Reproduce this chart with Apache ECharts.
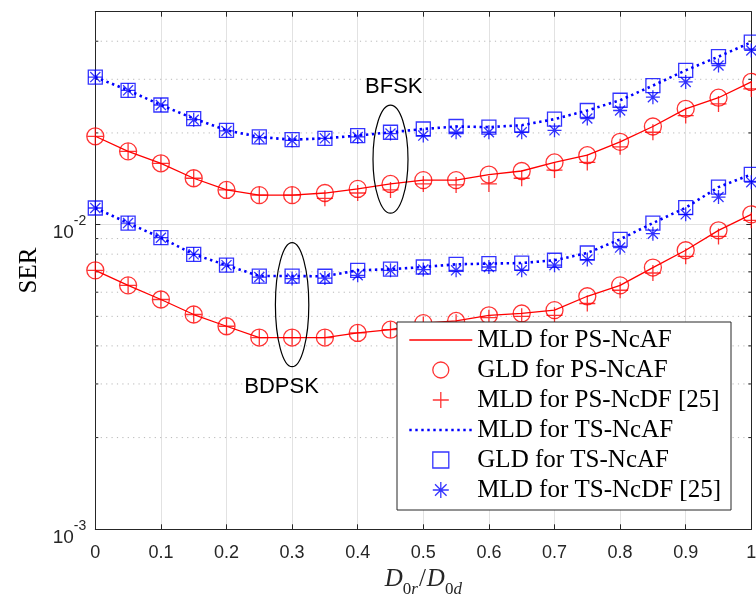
<!DOCTYPE html>
<html><head><meta charset="utf-8">
<script src="https://cdn.jsdelivr.net/npm/echarts@6/dist/echarts.min.js"></script>
<style>html,body{margin:0;padding:0;background:#fff}#c{width:756px;height:595px}</style>
</head><body><div id="c"></div>
<script>
// ---- data ----
const xs = [0, 0.05, 0.1, 0.15, 0.2, 0.25, 0.3, 0.35, 0.4, 0.45, 0.5, 0.55, 0.6, 0.65, 0.7, 0.75, 0.8, 0.85, 0.9, 0.95, 1];

// BFSK
const bfskPsNcAF = [0.0195, 0.0174, 0.0159, 0.0142, 0.0130, 0.0125, 0.0125, 0.0127, 0.0131, 0.0136, 0.0140, 0.0140, 0.0146, 0.0150, 0.0160, 0.0169, 0.0187, 0.0210, 0.0240, 0.0261, 0.0294];
const bfskPsNcDF = [0.0195, 0.0174, 0.0159, 0.0142, 0.0130, 0.0125, 0.0125, 0.0122, 0.0127, 0.0130, 0.0136, 0.0135, 0.0136, 0.0142, 0.0151, 0.0160, 0.0180, 0.0201, 0.0228, 0.0249, 0.0279];
const bfskTsNcAF = [0.0305, 0.0276, 0.0247, 0.0223, 0.0204, 0.0194, 0.0190, 0.0192, 0.0196, 0.0201, 0.0206, 0.0210, 0.0209, 0.0212, 0.0222, 0.0237, 0.0256, 0.0286, 0.0321, 0.0356, 0.0397];
const bfskTsNcDF = [0.0305, 0.0276, 0.0247, 0.0221, 0.0203, 0.0193, 0.0189, 0.0192, 0.0194, 0.0199, 0.0196, 0.0201, 0.0201, 0.0201, 0.0204, 0.0223, 0.0237, 0.0262, 0.0294, 0.0333, 0.0373];

// BDPSK
const bdpskPsNcAF = [0.00708, 0.00632, 0.00568, 0.00507, 0.00464, 0.00426, 0.00426, 0.00426, 0.00441, 0.00452, 0.00475, 0.00483, 0.00504, 0.00511, 0.00524, 0.00582, 0.00632, 0.00723, 0.00824, 0.00958, 0.01081];
const bdpskPsNcDF = [0.00708, 0.00632, 0.00568, 0.00507, 0.00464, 0.00426, 0.00426, 0.00426, 0.00441, 0.00452, 0.00470, 0.00478, 0.00495, 0.00500, 0.00504, 0.00551, 0.00609, 0.00694, 0.00787, 0.00915, 0.01033];
const bdpskTsNcAF = [0.01134, 0.01012, 0.00906, 0.00799, 0.00736, 0.00678, 0.00678, 0.00677, 0.00708, 0.00714, 0.00726, 0.00741, 0.00745, 0.00748, 0.00764, 0.00807, 0.00895, 0.01012, 0.01137, 0.01328, 0.01462];
const bdpskTsNcDF = [0.01134, 0.01012, 0.00906, 0.00799, 0.00736, 0.00673, 0.00665, 0.00668, 0.00682, 0.00708, 0.00712, 0.00708, 0.00726, 0.00708, 0.00736, 0.00768, 0.00841, 0.00934, 0.01081, 0.01232, 0.01379];

const legendNames = ['MLD for PS-NcAF', 'GLD for PS-NcAF', 'MLD for PS-NcDF [25]', 'MLD for TS-NcAF', 'GLD for TS-NcAF', 'MLD for TS-NcDF [25]'];
const yMin = 0.001, yMax = 0.05;
const xMin = 0, xMax = 1, xInterval = 0.1;
const minorYTicks = [0.002, 0.003, 0.004, 0.005, 0.006, 0.007, 0.008, 0.009, 0.02, 0.03, 0.04];
const groupLabels = [{ text: 'BFSK', x: 0.455, y: 0.0284 }, { text: 'BDPSK', x: 0.284, y: 0.00293 }];
const groupEllipses = [{ x: 0.45, y: 0.0164 }, { x: 0.30, y: 0.00546 }];

// ---- drawing ----
const RED = '#ff0000', BLUE = '#0000ff', AX = '#262626';
const pair = arr => arr.map((v, i) => [xs[i], v]);
const SQUARE = 'path://M0,0 L1,0 L1,1 L0,1 Z';
const PLUS = 'path://M0,-1 L0,1 M-1,0 L1,0';
const STAR = 'path://M0,-1 L0,1 M-1,0 L1,0 M-0.72,-0.72 L0.72,0.72 M-0.72,0.72 L0.72,-0.72';

function lineS(name, arr, color, dotted) {
  return {
    type: 'line', name, data: pair(arr), symbol: 'none', clip: false, z: 3,
    lineStyle: dotted ? { color, width: 2.6, type: [2.4, 3.6], cap: 'butt' } : { color, width: 1.3 },
    itemStyle: { color }, emphasis: { disabled: true }
  };
}
function scatS(name, arr, color, symbol, size) {
  return {
    type: 'scatter', name, data: pair(arr), symbol, symbolSize: size, symbolKeepAspect: true, clip: false, z: 4,
    itemStyle: { color: 'rgba(0,0,0,0)', borderColor: color, borderWidth: 1.3 },
    emphasis: { disabled: true }
  };
}

const chart = echarts.init(document.getElementById('c'), null, { renderer: 'canvas' });

const yLabelFmt = v => {
  const e = Math.log10(v);
  if (Math.abs(e - Math.round(e)) > 1e-6) return '';
  return '{b|10}{s|' + Math.round(e) + '}';
};

const legendData = legendNames.map((n, i) => (i === 0 || i === 3) ? { name: n, itemStyle: { opacity: 0 } } : { name: n });

const option = {
  animation: false,
  backgroundColor: '#fff',
  grid: { left: 95.3, right: 4.7, top: 11.7, bottom: 65.7, containLabel: false, outerBoundsMode: 'none' },
  xAxis: [{
    type: 'value', min: xMin, max: xMax, interval: xInterval, position: 'bottom',
    axisLine: { show: true, onZero: false, lineStyle: { color: AX, width: 1 } },
    axisTick: { show: true, inside: true, length: 5, lineStyle: { color: AX } },
    axisLabel: { color: AX, fontFamily: 'Liberation Sans', fontSize: 18, margin: 15,
      formatter: v => (Math.abs(v) < 1e-9 ? '0' : Math.abs(v - 1) < 1e-9 ? '1' : v.toFixed(1)) },
    splitLine: { show: true, lineStyle: { color: '#e2e2e2', width: 1 } },
    name: '{i|D}{s0|0}{si|r}{n|/}{i|D}{s0|0}{si|d}', nameLocation: 'middle', nameGap: 46,
    nameTextStyle: { verticalAlign: 'middle', rich: {
      i: { fontFamily: 'Liberation Serif', fontStyle: 'italic', fontSize: 25, lineHeight: 30, padding: [0, 0, 6, 0] },
      n: { fontFamily: 'Liberation Serif', fontSize: 25, lineHeight: 30, padding: [0, 1, 6, 1] },
      s0: { fontFamily: 'Liberation Serif', fontSize: 17, lineHeight: 17, padding: [13, 0, 0, 0] },
      si: { fontFamily: 'Liberation Serif', fontStyle: 'italic', fontSize: 17, lineHeight: 17, padding: [13, 0, 0, 0] }
    } }
  }, {
    type: 'value', min: xMin, max: xMax, interval: xInterval, position: 'top',
    axisLine: { show: true, onZero: false, lineStyle: { color: AX, width: 1 } },
    axisTick: { show: true, inside: true, length: 5, lineStyle: { color: AX } },
    axisLabel: { show: false }, splitLine: { show: false }
  }],
  yAxis: [{
    type: 'log', logBase: 10, min: yMin, max: yMax, position: 'left',
    axisLine: { show: true, onZero: false, lineStyle: { color: AX, width: 1 } },
    axisTick: { show: true, inside: true, length: 5, lineStyle: { color: AX } },
    axisLabel: { color: AX, margin: 9, formatter: yLabelFmt, rich: {
      b: { fontFamily: 'Liberation Sans', fontSize: 19, color: AX, lineHeight: 18, padding: [19, 0, 3, 0] },
      s: { fontFamily: 'Liberation Sans', fontSize: 14, color: AX, lineHeight: 13, padding: [10, 0, 17, 0] }
    } },
    splitLine: { show: true, lineStyle: { color: '#e2e2e2', width: 1 } },
    name: 'SER', nameLocation: 'middle', nameGap: 64, nameRotate: 90,
    nameTextStyle: { fontFamily: 'Liberation Serif', fontSize: 25, color: '#000', verticalAlign: 'middle' }
  }, {
    type: 'log', logBase: 10, min: yMin, max: yMax, position: 'right',
    axisLine: { show: true, onZero: false, lineStyle: { color: AX, width: 1 } },
    axisTick: { show: true, inside: true, length: 5, lineStyle: { color: AX } },
    axisLabel: { show: false }, splitLine: { show: false }
  }],
  legend: {
    data: legendData, orient: 'vertical', left: 397, top: 322,
    itemWidth: 63, itemHeight: 16, itemGap: 0,
    padding: [3, 10, 5, 11],
    backgroundColor: '#fff', borderColor: AX, borderWidth: 1, borderRadius: 0,
    selectedMode: false,
    textStyle: { fontFamily: 'Liberation Serif', fontSize: 25, color: '#000', lineHeight: 30 },
    itemStyle: { borderWidth: 'inherit' },
    lineStyle: { width: 'inherit' },
    z: 10
  },
  series: [
    {
      type: 'custom', name: 'minorGrid', silent: true, z: 1, clip: false,
      data: minorYTicks.map(v => [xMin, v]),
      renderItem: (params, api) => {
        const v = api.value(1);
        const pL = api.coord([xMin, v]);
        const pR = api.coord([xMax, v]);
        return {
          type: 'group', children: [
            { type: 'line', shape: { x1: pL[0], y1: pL[1], x2: pR[0], y2: pR[1] },
              style: { stroke: '#b8b8b8', lineWidth: 1, lineDash: [1.2, 4.2] } },
            { type: 'line', shape: { x1: pL[0], y1: pL[1], x2: pL[0] + 3, y2: pL[1] }, style: { stroke: AX, lineWidth: 1 } },
            { type: 'line', shape: { x1: pR[0] - 3, y1: pR[1], x2: pR[0], y2: pR[1] }, style: { stroke: AX, lineWidth: 1 } }
          ]
        };
      }
    },
    lineS(legendNames[0], bfskPsNcAF, RED, false),
    lineS(legendNames[0], bdpskPsNcAF, RED, false),
    scatS(legendNames[1], bfskPsNcAF, RED, 'circle', 17),
    scatS(legendNames[1], bdpskPsNcAF, RED, 'circle', 17),
    scatS(legendNames[2], bfskPsNcDF, RED, PLUS, 16),
    scatS(legendNames[2], bdpskPsNcDF, RED, PLUS, 16),
    lineS(legendNames[3], bfskTsNcAF, BLUE, true),
    lineS(legendNames[3], bdpskTsNcAF, BLUE, true),
    scatS(legendNames[4], bfskTsNcAF, BLUE, SQUARE, 14),
    scatS(legendNames[4], bdpskTsNcAF, BLUE, SQUARE, 14),
    scatS(legendNames[5], bfskTsNcDF, BLUE, STAR, 14),
    scatS(legendNames[5], bdpskTsNcDF, BLUE, STAR, 14)
  ]
};
chart.setOption(option);

const ellipseR = [[17.5, 54], [16.7, 62]];
const graphics = [];
groupEllipses.forEach((e, i) => {
  const p = chart.convertToPixel({ gridIndex: 0 }, [e.x, e.y]);
  graphics.push({ type: 'ellipse', z: 5, silent: true,
    shape: { cx: p[0], cy: p[1], rx: ellipseR[i][0], ry: ellipseR[i][1] },
    style: { fill: 'none', stroke: '#000', lineWidth: 1.2 } });
});
groupLabels.forEach(l => {
  const p = chart.convertToPixel({ gridIndex: 0 }, [l.x, l.y]);
  graphics.push({ type: 'text', z: 5, silent: true, x: p[0], y: p[1],
    style: { text: l.text, fontFamily: 'Liberation Sans', fontSize: 22, fill: '#000', align: 'center', verticalAlign: 'middle' } });
});
chart.setOption({ graphic: graphics });
</script>
</body></html>
